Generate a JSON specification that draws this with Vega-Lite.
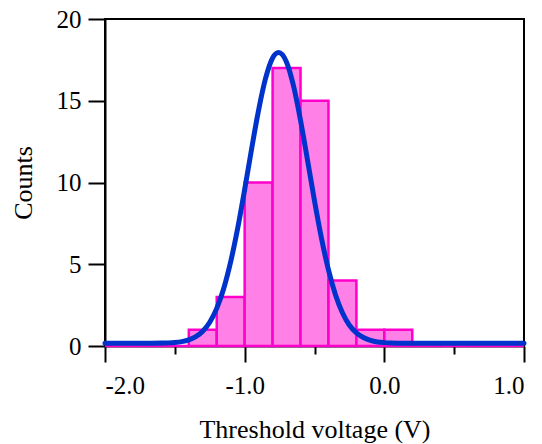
{
  "$schema": "https://vega.github.io/schema/vega-lite/v6.json",
  "width": 419,
  "height": 327,
  "autosize": "none",
  "padding": {"left": 105, "top": 19, "right": 18, "bottom": 98},
  "background": "white",
  "config": {
    "view": {"stroke": "black", "strokeWidth": 2},
    "font": "Liberation Serif",
    "axis": {
      "labelFont": "Liberation Serif",
      "titleFont": "Liberation Serif",
      "labelFontSize": 25,
      "titleFontSize": 26,
      "titleFontWeight": "normal",
      "labelColor": "black",
      "titleColor": "black",
      "domainColor": "black",
      "tickColor": "black",
      "domainWidth": 2,
      "tickWidth": 2,
      "grid": false
    }
  },
  "layer": [
    {
      "data": {
        "values": [
          {"v0": -2.0, "v1": -1.8, "count": 0},
          {"v0": -1.8, "v1": -1.6, "count": 0},
          {"v0": -1.6, "v1": -1.4, "count": 0},
          {"v0": -1.4, "v1": -1.2, "count": 1},
          {"v0": -1.2, "v1": -1.0, "count": 3},
          {"v0": -1.0, "v1": -0.8, "count": 10},
          {"v0": -0.8, "v1": -0.6, "count": 17},
          {"v0": -0.6, "v1": -0.4, "count": 15},
          {"v0": -0.4, "v1": -0.2, "count": 4},
          {"v0": -0.2, "v1": 0.0, "count": 1},
          {"v0": 0.0, "v1": 0.2, "count": 1},
          {"v0": 0.2, "v1": 0.4, "count": 0},
          {"v0": 0.4, "v1": 0.6, "count": 0},
          {"v0": 0.6, "v1": 0.8, "count": 0},
          {"v0": 0.8, "v1": 1.0, "count": 0}
        ]
      },
      "mark": {"type": "bar", "fill": "#FF80E6", "stroke": "#FF00CC", "strokeWidth": 2.5, "opacity": 1},
      "encoding": {
        "x": {
          "field": "v0", "type": "quantitative",
          "scale": {"domain": [-2, 1], "nice": false, "zero": false},
          "axis": {
            "orient": "bottom",
            "values": [-2, -1, 0, 1],
            "labelExpr": "replace(format(datum.value, '.1f'), '\u2212', '-')",
            "tickSize": 16,
            "labelPadding": 11,
            "title": "Threshold voltage (V)",
            "titlePadding": 18
          }
        },
        "x2": {"field": "v1"},
        "y": {
          "field": "count", "type": "quantitative",
          "scale": {"domain": [0, 20], "nice": false},
          "axis": {
            "values": [0, 5, 10, 15, 20],
            "tickSize": 17,
            "labelPadding": 7,
            "title": "Counts",
            "titlePadding": 20
          }
        },
        "y2": {"datum": 0}
      }
    },
    {
      "data": {
        "values": [
          {"v": -2.0, "c": 0.17},
          {"v": -1.9, "c": 0.17},
          {"v": -1.8, "c": 0.17},
          {"v": -1.7, "c": 0.17},
          {"v": -1.6, "c": 0.178},
          {"v": -1.55, "c": 0.19},
          {"v": -1.5, "c": 0.215},
          {"v": -1.45, "c": 0.269},
          {"v": -1.4, "c": 0.373},
          {"v": -1.35, "c": 0.567},
          {"v": -1.3, "c": 0.903},
          {"v": -1.25, "c": 1.455},
          {"v": -1.2, "c": 2.3},
          {"v": -1.15, "c": 3.52},
          {"v": -1.1, "c": 5.16},
          {"v": -1.05, "c": 7.2},
          {"v": -1.0, "c": 9.57},
          {"v": -0.95, "c": 12.07},
          {"v": -0.9, "c": 14.44},
          {"v": -0.85, "c": 16.38},
          {"v": -0.8, "c": 17.62},
          {"v": -0.757, "c": 17.95},
          {"v": -0.7, "c": 17.36},
          {"v": -0.65, "c": 15.9},
          {"v": -0.6, "c": 13.8},
          {"v": -0.55, "c": 11.37},
          {"v": -0.5, "c": 8.88},
          {"v": -0.45, "c": 6.59},
          {"v": -0.4, "c": 4.65},
          {"v": -0.35, "c": 3.14},
          {"v": -0.3, "c": 2.03},
          {"v": -0.25, "c": 1.27},
          {"v": -0.2, "c": 0.81},
          {"v": -0.15, "c": 0.52},
          {"v": -0.1, "c": 0.35},
          {"v": -0.05, "c": 0.25},
          {"v": 0.0, "c": 0.206},
          {"v": 0.05, "c": 0.185},
          {"v": 0.1, "c": 0.175},
          {"v": 0.2, "c": 0.17},
          {"v": 0.4, "c": 0.17},
          {"v": 0.6, "c": 0.17},
          {"v": 0.8, "c": 0.17},
          {"v": 1.0, "c": 0.17}
        ]
      },
      "mark": {"type": "line", "color": "#0033CC", "strokeWidth": 5, "interpolate": "monotone", "strokeCap": "round"},
      "encoding": {
        "x": {
          "field": "v", "type": "quantitative",
          "scale": {"domain": [-2, 1], "nice": false, "zero": false},
          "axis": {
            "orient": "bottom",
            "values": [-1.5, -0.5, 0.5],
            "tickSize": 8,
            "labels": false,
            "domain": false,
            "title": null
          }
        },
        "y": {"field": "c", "type": "quantitative"}
      }
    }
  ],
  "resolve": {"axis": {"x": "independent"}}
}
